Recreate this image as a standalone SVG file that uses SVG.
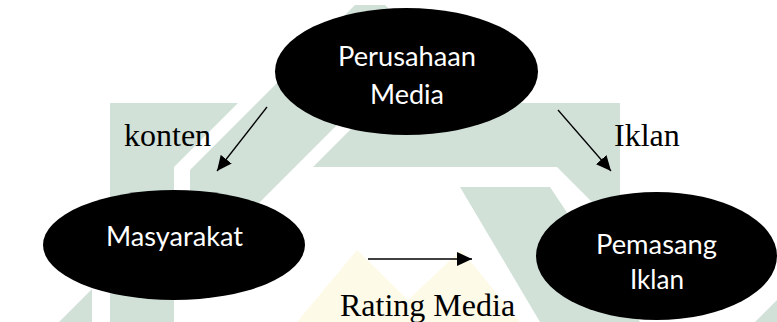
<svg xmlns="http://www.w3.org/2000/svg" width="777" height="322" viewBox="0 0 777 322">
  <defs>
    <marker id="ah" markerUnits="userSpaceOnUse" markerWidth="15" markerHeight="14" refX="15" refY="7" orient="auto">
      <path d="M0,0 L15,7 L0,14 z" fill="#000"/>
    </marker>
    <style>
      .wm { fill: #d1e1d8; }
      .wy { fill: #fdfae8; }
      .node { fill: #000; }
      .nt { font-family: Lato, "Open Sans", sans-serif; font-size: 26px; fill: #fff; text-anchor: middle; }
      .lbl { font-family: "Liberation Serif", "Times New Roman", serif; font-size: 32px; fill: #000; }
      .edge { stroke: #000; stroke-width: 1.3; fill: none; marker-end: url(#ah); }
    </style>
  </defs>
  <rect width="777" height="322" fill="#fff"/>
  <g id="watermark">
    <polygon class="wy" points="297,322 357,250 408,300 461,250 520,322"/>
    <polygon class="wm" points="110,103 238,103 174,167 174,322 110,322"/>
    <polygon class="wm" points="59,322 92,289 92,322"/>
    <polygon class="wm" points="355,5 385,5 422,40 245,217 200,262 190,262 190,170"/>
    <polygon class="wm" points="313,167 557,167 620,230 620,103 515,103 515,40 440,40"/>
    <polygon class="wm" points="460,187 550,187 640,322 540,322"/>
    <polygon class="wm" points="755,322 777,300 777,322"/>
  </g>
  <g id="node-perusahaan">
    <ellipse class="node" cx="406.5" cy="71.5" rx="131.5" ry="63.5"/>
    <text class="nt" x="407" y="66" textLength="138" lengthAdjust="spacingAndGlyphs">Perusahaan</text>
    <text class="nt" x="407" y="104" textLength="74" lengthAdjust="spacingAndGlyphs">Media</text>
  </g>
  <g id="node-masyarakat">
    <ellipse class="node" cx="174" cy="245" rx="131" ry="55"/>
    <text class="nt" x="174.5" y="246" textLength="137" lengthAdjust="spacingAndGlyphs">Masyarakat</text>
  </g>
  <g id="node-pemasang">
    <ellipse class="node" cx="656.5" cy="256" rx="120.5" ry="64"/>
    <text class="nt" x="656.5" y="254" textLength="121" lengthAdjust="spacingAndGlyphs">Pemasang</text>
    <text class="nt" x="657" y="289" textLength="54" lengthAdjust="spacingAndGlyphs">Iklan</text>
  </g>
  <g id="connectors">
    <line class="edge" x1="267" y1="107" x2="217" y2="171"/>
    <line class="edge" x1="558" y1="110" x2="611" y2="171"/>
    <line class="edge" x1="368" y1="259" x2="472" y2="259"/>
    <text class="lbl" x="124" y="146">konten</text>
    <text class="lbl" x="614" y="146">Iklan</text>
    <text class="lbl" x="340" y="316">Rating Media</text>
  </g>
</svg>
